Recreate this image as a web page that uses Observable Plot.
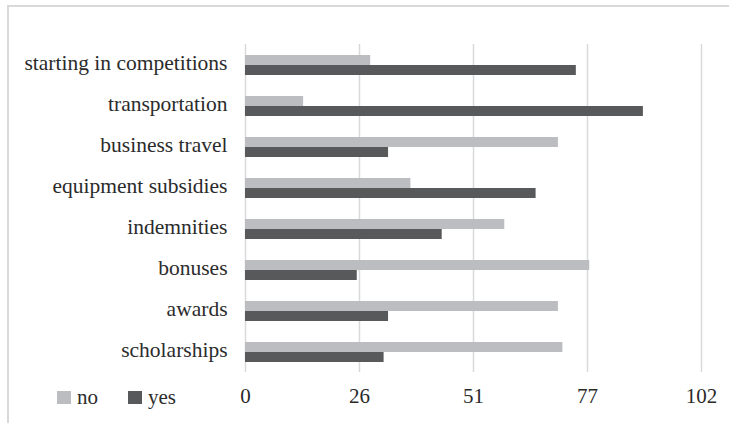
<!DOCTYPE html>
<html>
<head>
<meta charset="utf-8">
<script src="https://cdn.jsdelivr.net/npm/d3@7"></script>
<script src="https://cdn.jsdelivr.net/npm/@observablehq/plot@0.6"></script>
<style>
  html, body { margin: 0; padding: 0; background: #fff; overflow: hidden; }
  #wrap { position: relative; width: 729px; height: 423px; overflow: hidden; }
  #frame { position: absolute; left: 7px; top: 5px; width: 760px; height: 460px;
           border: 2px solid #d9d9d9; box-sizing: border-box; pointer-events: none; }
  #legend { position: absolute; left: 57px; top: 385px; display: flex; align-items: center;
            font-family: "Liberation Serif", serif; font-size: 21px; color: #2b2b2b; }
  #legend .item { display: flex; align-items: center; margin-right: 30px; }
  #legend .sw { width: 14px; height: 13px; margin-right: 6px; }
</style>
</head>
<body>
<div id="wrap">
  <div id="chart"></div>
  <div id="frame"></div>
  <div id="legend"></div>
</div>
<script>
// Payment categories, top to bottom
const categories = [
  "starting in competitions",
  "transportation",
  "business travel",
  "equipment subsidies",
  "indemnities",
  "bonuses",
  "awards",
  "scholarships"
];
const series = ["no", "yes"];
const noValues  = [28, 13, 70, 37, 58, 77, 70, 71];
const yesValues = [74, 89, 32, 65, 44, 25, 32, 31];
const seriesColors = ["#bcbdc0", "#58595b"];
const xTicks = [0, 25.5, 51, 76.5, 102];

const rows = categories.flatMap((c, i) => [
  {category: c, series: "no", value: noValues[i]},
  {category: c, series: "yes", value: yesValues[i]}
]);

const chart = Plot.plot({
  width: 729,
  height: 423,
  marginTop: 43,
  marginBottom: 51,
  marginLeft: 245,
  marginRight: 28,
  style: {fontFamily: "Liberation Serif, serif", fontSize: "20px", color: "#2b2b2b", background: "transparent"},
  x: {domain: [0, 102]},
  fy: {domain: categories, padding: 0},
  y: {domain: series, paddingInner: 0, paddingOuter: 0.873, axis: null},
  color: {domain: series, range: seriesColors},
  marks: [
    Plot.gridX(xTicks, {stroke: "#d9d9d9", strokeOpacity: 1, strokeWidth: 1.5}),
    Plot.barX(rows, {x: "value", y: "series", fy: "category", fill: "series"}),
    Plot.axisX(xTicks, {tickSize: 0, tickPadding: 16, tickFormat: d => Math.round(d), label: null, fontSize: 21, fill: "#2b2b2b"}),
    Plot.axisFy({anchor: "left", tickSize: 0, tickPadding: 18, label: null, fontSize: 21.5, dy: -2, fill: "#2b2b2b"})
  ]
});
document.getElementById("chart").appendChild(chart);

const legend = document.getElementById("legend");
series.forEach((s, i) => {
  const item = document.createElement("div");
  item.className = "item";
  const sw = document.createElement("div");
  sw.className = "sw";
  sw.style.background = seriesColors[i];
  const label = document.createElement("span");
  label.textContent = s;
  item.appendChild(sw);
  item.appendChild(label);
  legend.appendChild(item);
});
</script>
</body>
</html>
